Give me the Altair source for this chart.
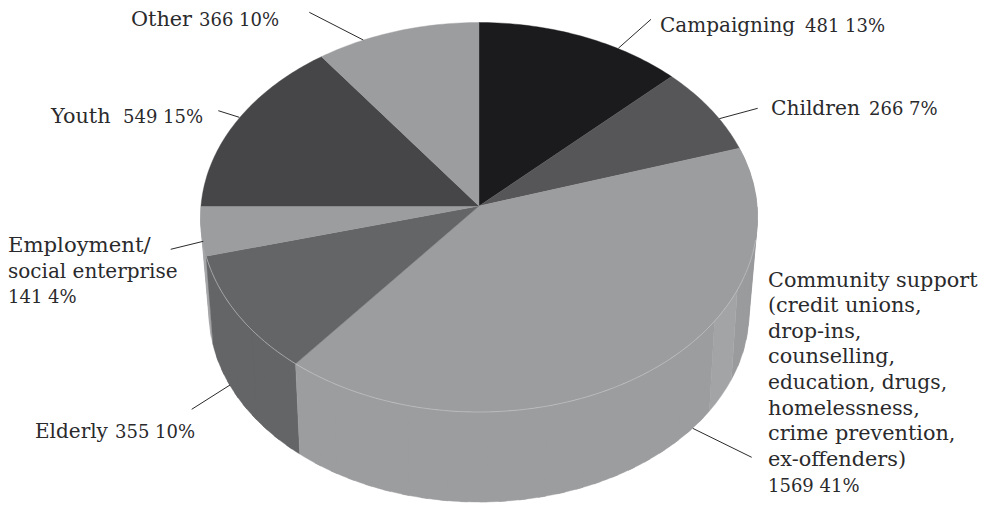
import numpy as np
import pandas as pd
import altair as alt

# slice shares (percent of the circle), clockwise from 12 o'clock
names = ["Campaigning", "Children", "Community", "Elderly", "Employment", "Youth", "Other"]
shares = [12.8, 7.3, 40.75, 10.05, 4.1, 14.9, 10.1]
colors = ["#1b1a1c", "#565658", "#9c9d9f", "#646567", "#9c9d9f", "#464648", "#9c9d9f"]

WORD, NUM = 20.8, 18
label_lines = [
    ("Campaigning", 660, 31.5, 20),
    ("481 13%", 805, 31.5, NUM),
    ("Children", 771, 115, 20.2),
    ("266 7%", 869, 115, NUM),
    ("Community support", 768, 286.5, WORD),
    ("(credit unions,", 768, 312, WORD),
    ("drop-ins,", 768, 337.5, WORD),
    ("counselling,", 768, 363, WORD),
    ("education, drugs,", 768, 389, 20.2),
    ("homelessness,", 768, 414.5, WORD),
    ("crime prevention,", 768, 440, WORD),
    ("ex-offenders)", 768, 466, WORD),
    ("1569 41%", 768, 491.5, NUM),
    ("Elderly", 35, 438, 20),
    ("355 10%", 115, 438, NUM),
    ("Employment/", 8, 251.5, 21.2),
    ("social enterprise", 8, 278, 20),
    ("141 4%", 8, 303, NUM),
    ("Youth", 51, 123, WORD),
    ("549 15%", 123, 123, NUM),
    ("Other", 131, 26, WORD),
    ("366 10%", 199, 26, NUM),
]
leaders = [
    (618.3, 48.3, 651, 19.3),
    (719.3, 118.7, 757.7, 108.3),
    (692.7, 428.3, 751.7, 457.3),
    (230, 385, 191.7, 409.3),
    (203.3, 241.3, 170.7, 249.3),
    (239.3, 117.3, 218.3, 110.7),
    (363.3, 40, 309.3, 12.3),
]

CX, CY, A, B, K = 479.0, 206.0, 278.0, 194.1, 0.0578
BCY, BRX, BRY = 312.0, 270.0, 190.0


def top(t):
    t = np.radians(t)
    u, v = np.sin(t), -np.cos(t)
    w = 1 - K * v
    return CX + A * u / w, CY + B * v / w


def bottom(t):
    t = np.radians(180 + (t - 180) * 1.065)
    return CX + BRX * np.sin(t), BCY - BRY * np.cos(t)


edges = np.concatenate([[0], np.cumsum(shares)]) * 3.6
X = alt.X("x:Q", scale=alt.Scale(domain=[8, 983]), axis=None)
Y = alt.Y("y:Q", scale=alt.Scale(domain=[505, 8]), axis=None)


def poly(pts, color):
    df = pd.DataFrame(list(pts) + [pts[0]], columns=["x", "y"])
    df["i"] = range(len(df))
    return alt.Chart(df).mark_line(
        fill=color, stroke=color, strokeWidth=0.4
    ).encode(x=X, y=Y, order="i:Q")


def wall(t0, t1, color, step=4.0):
    # overlapping quads, so the silhouette between the two rims stays covered without seams
    n = max(int(np.ceil((t1 - t0) / step)), 1)
    cuts = np.linspace(t0, t1, n + 1)
    out = []
    for k, (a, b) in enumerate(zip(cuts[:-1], cuts[1:])):
        a2 = a if k == 0 else a - 1.5
        ts = np.linspace(a2, b, 5)
        out.append(poly([top(t) for t in ts] + [bottom(t) for t in ts[::-1]], color))
    return out


layers = []
# side walls, back to front
layers += wall(edges[4], edges[5], "#a6a7a9")
layers += wall(edges[2], 115, "#9a9b9d")
layers += wall(115, 125, "#a3a4a6", step=10)
layers += wall(edges[3], edges[4], colors[3])
layers += wall(125, edges[3], colors[2])

# top faces
for i, c in enumerate(colors):
    ts = np.linspace(edges[i], edges[i + 1], max(int(edges[i + 1] - edges[i]) + 2, 3))
    layers.append(poly([(CX, CY)] + [top(t) for t in ts], c))

# light hairline along the front rim
rim = pd.DataFrame([top(t) for t in np.linspace(100, edges[4], 160)], columns=["x", "y"])
rim["i"] = range(len(rim))
layers.append(
    alt.Chart(rim).mark_line(stroke="#c8c9ca", strokeWidth=0.6).encode(x=X, y=Y, order="i:Q")
)

lead = pd.DataFrame(leaders, columns=["x", "y", "x2", "y2"])
layers.append(
    alt.Chart(lead).mark_rule(stroke="#2a2a2c", strokeWidth=1).encode(x=X, y=Y, x2="x2:Q", y2="y2:Q")
)

lab = pd.DataFrame(label_lines, columns=["text", "x", "y", "fs"])
layers.append(
    alt.Chart(lab).mark_text(
        align="left", baseline="alphabetic", font="DejaVu Serif", color="#2a2a2c"
    ).encode(x=X, y=Y, text="text:N", size=alt.Size("fs:Q", scale=None))
)

chart = alt.layer(*layers).properties(
    width=975, height=497, padding=0, background="white",
    autosize=alt.AutoSizeParams(type="none"),
).configure_view(stroke=None, strokeWidth=0)

chart.save("out.html", embed_options={"renderer": "svg", "actions": False})
